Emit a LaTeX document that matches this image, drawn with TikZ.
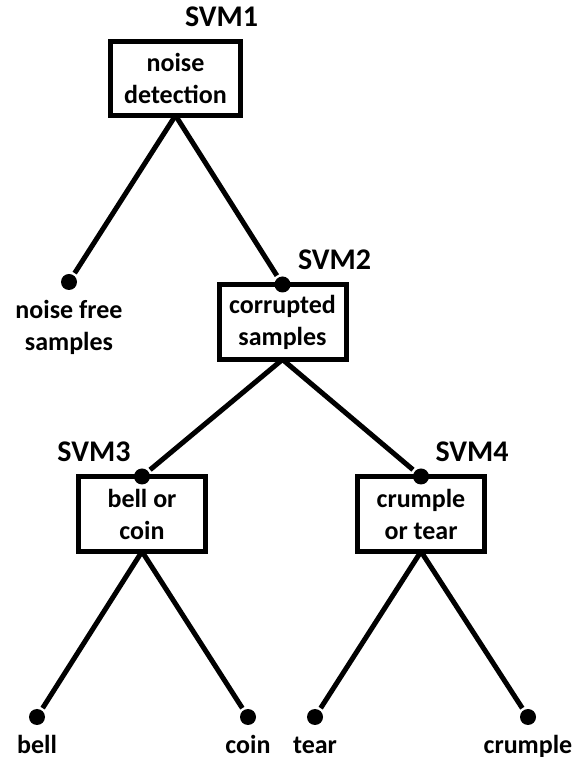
\documentclass[tikz,border=0pt]{standalone}
\usepackage{fontspec}
\setmainfont{Carlito}
\usetikzlibrary{positioning}

\begin{document}
\begin{tikzpicture}[x=1pt, y=1pt, line width=5pt,
    main node/.style={rectangle, draw, minimum width=127pt, minimum height=75pt, inner sep=0pt, outer sep=0pt, align=center},
    leaf node/.style={circle, fill, inner sep=0pt, minimum size=16pt},
    svm label/.style={inner sep=0pt, font=\fontsize{30}{36}\selectfont\bfseries},
    leaf label/.style={inner sep=0pt, align=center}]
  \tikzstyle{every node}=[font=\fontsize{26}{32}\selectfont\bfseries]
  \useasboundingbox (0,0) rectangle (577,757);

  \node[main node, minimum width=130pt, minimum height=74pt] (1) at (175.5,678.5) {noise\\detection};
  \node[main node] (2) at (282.5,435) {corrupted\\samples};
  \node[main node] (3) at (142,243) {bell or\\coin};
  \node[main node] (4) at (421,243) {crumple\\or tear};

  % dots on the boxes
  \node[leaf node] (2d) at (2.north) {};
  \node[leaf node] (3d) at (3.north) {};
  \node[leaf node] (4d) at (4.north) {};

  % leaves
  \node[leaf node] (5) at (69,475) {};
  \node[leaf node] (6) at (37,40) {};
  \node[leaf node] (7) at (248,40) {};
  \node[leaf node] (8) at (315,40) {};
  \node[leaf node] (9) at (528,40) {};

  \node[leaf label, below=5pt of 5] {noise free\\samples};
  \node[leaf label, text height=18pt, text depth=0pt, below=5pt of 6] {bell};
  \node[leaf label, text height=18pt, text depth=0pt, below=5pt of 7] {coin};
  \node[leaf label, text height=18pt, text depth=0pt, below=5pt of 8] {tear};
  \node[leaf label, text height=18pt, text depth=0pt, below=5pt of 9] {crumple};

  \node[svm label, above right=12pt and 7pt of 1.north] {SVM1};
  \node[svm label, above right=12pt and 13pt of 2.north] {SVM2};
  \node[svm label, above left=12pt and 9pt of 3.north] {SVM3};
  \node[svm label, above right=12pt and 12pt of 4.north] {SVM4};

  \path (1.south) edge (2d) edge (5);
  \path (2.south) edge (3d) edge (4d);
  \path (3.south) edge (6) edge (7);
  \path (4.south) edge (8) edge (9);
\end{tikzpicture}
\end{document}
